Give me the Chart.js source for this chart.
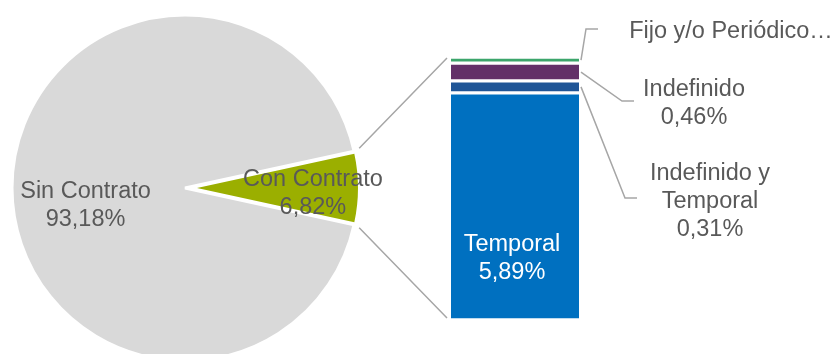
<!DOCTYPE html>
<html lang="es">
<head>
<meta charset="utf-8">
<script src="https://cdn.jsdelivr.net/npm/chart.js@4.4.1/dist/chart.umd.min.js"></script>
<style>
  html, body { margin: 0; padding: 0; background: #fff; }
  #contenedor { position: relative; width: 838px; height: 354px; overflow: hidden; }
  #contenedor canvas { position: absolute; left: 0; top: 0; }
</style>
</head>
<body>
<div id="contenedor">
  <canvas id="chartPastel" width="838" height="354"></canvas>
  <canvas id="chartBarra" width="838" height="354"></canvas>
</div>
<script>
// Ocupados según tipo de contrato (%)
const categoriasPastel = ['Sin Contrato', 'Con Contrato'];
const valoresPastel = [93.18, 6.82];

// Desglose de "Con Contrato", de abajo hacia arriba
const categoriasBarra = ['Temporal', 'Indefinido y Temporal', 'Indefinido', 'Fijo y/o Periódico'];
const valoresBarra = [5.89, 0.31, 0.46, 0.16];

const coloresPastel = ['#D9D9D9', '#9BAF00'];
const coloresBarra = ['#0070C0', '#1F5596', '#633068', '#3CA56B'];

const fuente = '23.5px "Liberation Sans", Arial, sans-serif';
const grisTexto = '#595959';
const grisLinea = '#A6A6A6';
const separacion = 12; // desplazamiento de la porción "Con Contrato"

const fmt = v => v.toFixed(2).replace('.', ',') + '%';

function escribir(ctx, lineas, x, y, color) {
  ctx.save();
  ctx.font = fuente;
  ctx.fillStyle = color;
  ctx.textAlign = 'center';
  ctx.textBaseline = 'middle';
  lineas.forEach((t, i) => ctx.fillText(t, x, y + 2 + i * 28));
  ctx.restore();
}

// Separa la porción pequeña del centro y la encoge un poco
const separarPorcion = {
  id: 'separarPorcion',
  afterDatasetsUpdate(chart) {
    const arco = chart.getDatasetMeta(0).data[1];
    const medio = (arco.startAngle + arco.endAngle) / 2;
    arco.x += Math.cos(medio) * separacion;
    arco.y += Math.sin(medio) * separacion;
    arco.outerRadius -= separacion;
  }
};

// Etiquetas del pastel
const posPastel = [{ r: 0.575, dy: 2 }, { r: 0.72, dy: -10 }];
const rotulosPastel = {
  id: 'rotulosPastel',
  afterDatasetsDraw(chart) {
    const ctx = chart.ctx;
    chart.getDatasetMeta(0).data.forEach((arco, i) => {
      const medio = (arco.startAngle + arco.endAngle) / 2;
      const d = arco.outerRadius * posPastel[i].r;
      const x = arco.x + Math.cos(medio) * d;
      const y = arco.y + Math.sin(medio) * d + posPastel[i].dy;
      escribir(ctx, [categoriasPastel[i], fmt(valoresPastel[i])], x, y, grisTexto);
    });
  }
};

const chartPastel = new Chart(document.getElementById('chartPastel'), {
  type: 'pie',
  data: {
    labels: categoriasPastel,
    datasets: [{
      data: valoresPastel,
      backgroundColor: coloresPastel,
      borderColor: '#ffffff',
      borderWidth: [3, 0]
    }]
  },
  options: {
    responsive: false,
    animation: false,
    // la porción "Con Contrato" queda centrada a la derecha
    rotation: 90 - (valoresPastel[0] + valoresPastel[1] / 2) / (valoresPastel[0] + valoresPastel[1]) * 360,
    radius: 173,
    layout: { padding: { left: 0, right: 468, top: 22, bottom: 0 } },
    plugins: { legend: { display: false }, tooltip: { enabled: false } }
  },
  plugins: [separarPorcion, rotulosPastel]
});

// Líneas que unen la porción con la barra
const conectores = {
  id: 'conectores',
  afterDraw(chart) {
    const ctx = chart.ctx;
    const arco = chartPastel.getDatasetMeta(0).data[1];
    const barra = chart.getDatasetMeta(0).data[0];
    const xBarra = barra.x - barra.width / 2 - 4;
    const r = arco.outerRadius + 6;
    const extra = 1.5 * Math.PI / 180;
    const a1 = arco.startAngle - extra, a2 = arco.endAngle + extra;
    ctx.save();
    ctx.strokeStyle = grisLinea;
    ctx.lineWidth = 1.5;
    ctx.beginPath();
    ctx.moveTo(arco.x + Math.cos(a1) * r, arco.y + Math.sin(a1) * r);
    ctx.lineTo(xBarra, chart.chartArea.top + 1);
    ctx.moveTo(arco.x + Math.cos(a2) * r, arco.y + Math.sin(a2) * r);
    ctx.lineTo(xBarra, chart.chartArea.bottom - 2);
    ctx.stroke();
    ctx.restore();
  }
};

// Rótulos de los segmentos de la barra
const rotulosSegmentos = [
  { dentro: true, lineas: ['Temporal', fmt(valoresBarra[0])], x: 512, y: 243 },
  { lineas: ['Indefinido y', 'Temporal', fmt(valoresBarra[1])], x: 710, y: 172, codo: [625, 198], fin: [637, 198] },
  { lineas: ['Indefinido', fmt(valoresBarra[2])], x: 694, y: 88, codo: [622, 101], fin: [634, 101] },
  { lineas: ['Fijo y/o Periódico…'], x: 731, y: 30, codo: [586, 29], fin: [598, 29] }
];

const rotulosBarra = {
  id: 'rotulosBarra',
  afterDraw(chart) {
    const ctx = chart.ctx;
    rotulosSegmentos.forEach((rot, i) => {
      const seg = chart.getDatasetMeta(i).data[0];
      if (rot.dentro) {
        escribir(ctx, rot.lineas, rot.x, rot.y, '#ffffff');
        return;
      }
      const x0 = seg.x + seg.width / 2 + 2;
      const y0 = (seg.y + seg.base) / 2;
      ctx.save();
      ctx.strokeStyle = grisLinea;
      ctx.lineWidth = 1.5;
      ctx.beginPath();
      ctx.moveTo(x0, y0);
      ctx.lineTo(rot.codo[0], rot.codo[1]);
      ctx.lineTo(rot.fin[0], rot.fin[1]);
      ctx.stroke();
      ctx.restore();
      escribir(ctx, rot.lineas, rot.x, rot.y, grisTexto);
    });
  }
};

new Chart(document.getElementById('chartBarra'), {
  type: 'bar',
  data: {
    labels: ['Con Contrato'],
    datasets: categoriasBarra.map((c, i) => ({
      label: c,
      data: [valoresBarra[i]],
      backgroundColor: coloresBarra[i],
      borderColor: '#ffffff',
      borderWidth: { top: 2, bottom: 2, left: 0, right: 0 },
      borderSkipped: false,
      barPercentage: 1,
      categoryPercentage: 1
    }))
  },
  options: {
    responsive: false,
    animation: false,
    layout: { padding: { left: 451, right: 259, top: 57, bottom: 34 } },
    scales: {
      x: { stacked: true, display: false },
      y: { stacked: true, display: false, min: 0, max: valoresPastel[1] }
    },
    plugins: { legend: { display: false }, tooltip: { enabled: false } }
  },
  plugins: [conectores, rotulosBarra]
});
</script>
</body>
</html>
